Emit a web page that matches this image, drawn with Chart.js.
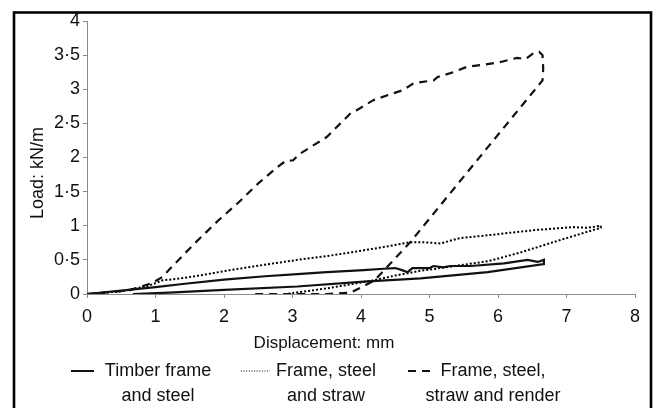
<!DOCTYPE html>
<html>
<head>
<meta charset="utf-8">
<script src="https://cdn.jsdelivr.net/npm/chart.js@4.4.1/dist/chart.umd.min.js"></script>
<style>
  html, body { margin: 0; padding: 0; background: #fff; }
  #wrap { width: 656px; height: 408px; position: relative; }
</style>
</head>
<body>
<div id="wrap"><canvas id="c" width="656" height="408"></canvas></div>
<script>
// ---- Data ----
const xTickLabels = ['0', '1', '2', '3', '4', '5', '6', '7', '8'];
const yTickLabels = ['0', '0·5', '1', '1·5', '2', '2·5', '3', '3·5', '4'];
const xAxisTitle = 'Displacement: mm';
const yAxisTitle = 'Load: kN/m';

const seriesLabels = [
  ['Timber frame', 'and steel'],
  ['Frame, steel', 'and straw'],
  ['Frame, steel,', 'straw and render']
];

// Timber frame and steel (solid)
const timberX = [0, 0.5, 1.0, 1.43, 2.0, 2.6, 3.07, 3.5, 4.04, 4.33, 4.5, 4.6, 4.68, 4.75, 5.0, 5.06, 5.2, 5.3, 5.6, 6.09, 6.43, 6.58, 6.67,
                 6.67, 5.85, 4.87, 4.04, 3.07, 2.0, 1.2, 0.67];
const timberY = [0, 0.05, 0.1, 0.15, 0.21, 0.26, 0.29, 0.32, 0.35, 0.37, 0.38, 0.35, 0.32, 0.38, 0.38, 0.41, 0.39, 0.41, 0.41, 0.45, 0.5, 0.47, 0.5,
                 0.44, 0.32, 0.23, 0.18, 0.11, 0.06, 0.02, 0.0];

// Frame, steel and straw (dotted)
const strawX = [0, 0.5, 0.9, 1.1, 1.3, 1.58, 2.09, 2.6, 3.07, 3.6, 4.04, 4.4, 4.72, 4.9, 5.16, 5.3, 5.45, 5.85, 6.2, 6.58, 7.1, 7.3, 7.5,
                7.5, 7.2, 6.81, 6.3, 5.85, 5.3, 4.87, 4.5, 4.18, 3.55, 3.2, 2.9];
const strawY = [0, 0.04, 0.12, 0.2, 0.22, 0.26, 0.35, 0.43, 0.5, 0.57, 0.64, 0.7, 0.76, 0.76, 0.74, 0.78, 0.82, 0.86, 0.9, 0.94, 0.98, 0.97, 1.0,
                0.97, 0.88, 0.76, 0.6, 0.48, 0.4, 0.34, 0.27, 0.2, 0.09, 0.04, 0.0];

// Frame, steel, straw and render (dashed)
const renderX = [0, 0.6, 0.95, 1.1, 1.24, 1.58, 1.92, 2.2, 2.5, 2.78, 2.9, 3.01, 3.1, 3.26, 3.5, 3.7, 3.85, 3.95, 4.18, 4.47, 4.62, 4.77, 5.06, 5.12, 5.35, 5.55, 5.8, 6.04, 6.28, 6.4, 6.52, 6.6, 6.65,
                 6.66, 6.65, 5.5, 4.72, 4.2, 3.85, 3.5, 2.4];
const renderY = [0, 0.05, 0.16, 0.25, 0.4, 0.75, 1.08, 1.33, 1.62, 1.86, 1.95, 1.96, 2.05, 2.15, 2.3, 2.5, 2.65, 2.7, 2.84, 2.94, 2.99, 3.09, 3.13, 3.18, 3.25, 3.33, 3.36, 3.4, 3.46, 3.44, 3.53, 3.55, 3.5,
                 3.3, 3.13, 1.72, 0.76, 0.2, 0.02, 0.0, 0.0];

function pts(xs, ys) { return xs.map((x, i) => ({ x: x, y: ys[i] })); }

const INK = '#111';
const AXIS = '#8a8a8a';
const FONT = '"Liberation Sans", Arial, Helvetica, sans-serif';
const lineStyles = [
  { dash: [], width: 2.2, color: '#111' },
  { dash: [2, 2], width: 2.0, color: '#000' },
  { dash: [8, 6], width: 2.2, color: '#111' }
];

const decorPlugin = {
  id: 'decor',
  afterDraw(chart) {
    const ctx = chart.ctx;
    ctx.save();
    // outer frame
    ctx.strokeStyle = '#000';
    ctx.lineWidth = 2.6;
    ctx.strokeRect(14, 12.5, 637, 420);

    // axis titles
    ctx.fillStyle = INK;
    ctx.textAlign = 'center';
    ctx.textBaseline = 'middle';
    ctx.font = '17px ' + FONT;
    ctx.fillText(xAxisTitle, 324, 343);
    ctx.save();
    ctx.font = '18px ' + FONT;
    ctx.translate(38, 173);
    ctx.rotate(-Math.PI / 2);
    ctx.fillText(yAxisTitle, 0, 0);
    ctx.restore();

    // legend
    ctx.font = '18px ' + FONT;
    const sampleX = [[71, 94], [241, 270], [408, 436]];
    const textCX = [158, 326, 493];
    const row1 = 371, row2 = 396;
    for (let i = 0; i < seriesLabels.length; i++) {
      ctx.beginPath();
      ctx.setLineDash(i === 1 ? [1, 1.6] : (i === 2 ? [8, 6] : []));
      ctx.lineWidth = i === 1 ? 1.2 : 2;
      ctx.strokeStyle = INK;
      ctx.moveTo(sampleX[i][0], row1);
      ctx.lineTo(sampleX[i][1], row1);
      ctx.stroke();
      ctx.setLineDash([]);
      ctx.fillText(seriesLabels[i][0], textCX[i], row1);
      ctx.fillText(seriesLabels[i][1], textCX[i], row2);
    }
    ctx.restore();
  }
};

const datasets = [
  { label: seriesLabels[0].join(' '), data: pts(timberX, timberY) },
  { label: seriesLabels[1].join(' '), data: pts(strawX, strawY) },
  { label: seriesLabels[2].join(' '), data: pts(renderX, renderY) }
].map((d, i) => Object.assign(d, {
  borderColor: lineStyles[i].color,
  borderWidth: lineStyles[i].width,
  borderDash: lineStyles[i].dash,
  pointRadius: 0,
  fill: false,
  tension: 0,
  showLine: true
}));

new Chart(document.getElementById('c'), {
  type: 'scatter',
  data: { datasets: datasets },
  options: {
    responsive: false,
    animation: false,
    events: [],
    layout: { padding: { left: 0, right: 21, top: 21, bottom: 0 } },
    plugins: { legend: { display: false }, tooltip: { enabled: false }, title: { display: false } },
    scales: {
      x: {
        type: 'linear', min: 0, max: 8,
        afterFit(s) { s.height = 114; },
        border: { display: true, color: AXIS, width: 1 },
        grid: { display: true, drawOnChartArea: false, drawTicks: true, tickLength: 4, color: AXIS },
        ticks: {
          stepSize: 1, color: INK, padding: 8,
          font: { family: FONT, size: 18 },
          maxRotation: 0,
          callback: (v) => xTickLabels[Math.round(v)]
        }
      },
      y: {
        type: 'linear', min: 0, max: 4,
        afterFit(s) { s.width = 87; },
        border: { display: true, color: AXIS, width: 1 },
        grid: { display: true, drawOnChartArea: false, drawTicks: true, tickLength: 4, color: AXIS },
        ticks: {
          stepSize: 0.5, color: INK, padding: 3,
          font: { family: FONT, size: 18 },
          callback: (v) => yTickLabels[Math.round(v * 2)]
        }
      }
    }
  },
  plugins: [decorPlugin]
});
</script>
</body>
</html>
